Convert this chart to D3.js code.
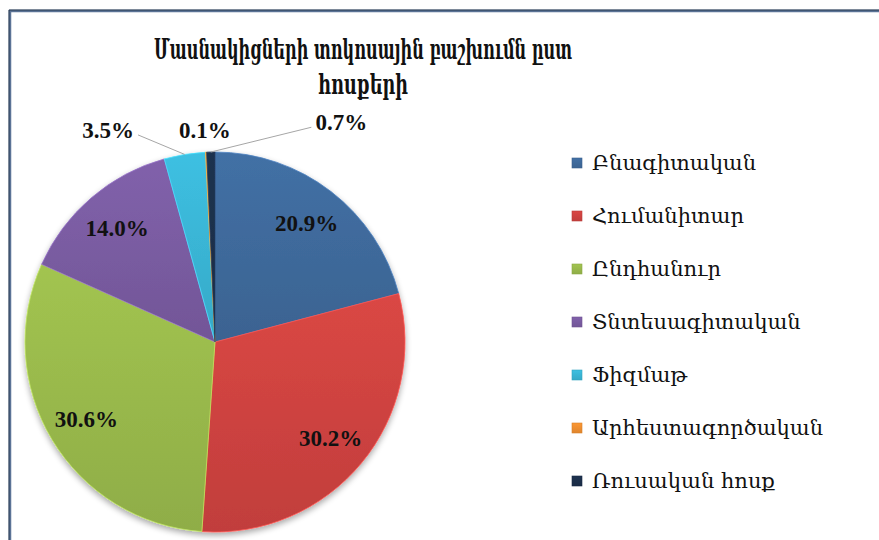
<!DOCTYPE html>
<html><head><meta charset="utf-8">
<script src="https://cdn.jsdelivr.net/npm/d3@7"></script>
<style>
html,body{margin:0;padding:0;background:#fff;}
svg{display:block;}
</style></head>
<body>
<svg id="chart" width="879" height="540"></svg>
<script>
const categories = ["Բնագիտական","Հումանիտար","Ընդհանուր","Տնտեսագիտական","Ֆիզմաթ","Արհեստագործական","Ռուսական հոսք"];
const values = [20.9, 30.2, 30.6, 14.0, 3.5, 0.1, 0.7];
const colors = ["#3f6a9c","#cf4340","#9aba4c","#7a5ca2","#3ab6d6","#ef8f30","#1c2f4b"];
const titleLines = ["Մասնակիցների տոկոսային բաշխումն ըստ","հոսքերի"];

const svg = d3.select("#chart");
const W = 879, H = 540;
const serif = "'DejaVu Serif', 'Noto Serif', serif";
const numFont = "'Liberation Serif', 'DejaVu Serif', serif";

// frame
svg.append("path").attr("d", `M10,${H+2} L10,11 L${W+2},11`)
  .attr("fill","none").attr("stroke","#5b7396").attr("stroke-width",2.5);
svg.append("path").attr("d", `M9,${H+2} L9,10 L${W+2},10`)
  .attr("fill","none").attr("stroke","#26384f").attr("stroke-width",1);

// title (condensed to match the original's narrow serif face)
const titleWidths = [418, 90];
const title = svg.append("text").attr("text-anchor","middle")
  .attr("font-family", serif).attr("font-size", 28).attr("font-weight","bold").attr("fill","#111");
titleLines.forEach((t,i)=>{
  title.append("tspan").attr("x",363).attr("y",59 + i*35)
    .attr("textLength", titleWidths[i]).attr("lengthAdjust","spacingAndGlyphs").text(t);
});

const defs = svg.append("defs");
const f = defs.append("filter").attr("id","shadow").attr("x","-20%").attr("y","-20%").attr("width","140%").attr("height","140%");
f.append("feGaussianBlur").attr("in","SourceAlpha").attr("stdDeviation",3);
f.append("feOffset").attr("dx",0).attr("dy",3).attr("result","ob");
f.append("feComponentTransfer").append("feFuncA").attr("type","linear").attr("slope",0.35);
const m = f.append("feMerge"); m.append("feMergeNode"); m.append("feMergeNode").attr("in","SourceGraphic");

colors.forEach((c,i)=>{
  const g = defs.append("linearGradient").attr("id","g"+i).attr("x1",0).attr("y1",0).attr("x2",0).attr("y2",1);
  g.append("stop").attr("offset","0%").attr("stop-color", d3.color(c).brighter(0.15));
  g.append("stop").attr("offset","100%").attr("stop-color", d3.color(c).darker(0.2));
});

const cx = 215, cy = 342, R = 190;
const data = categories.map((c,i)=>({name:c, value:values[i], color:colors[i], i}));
const pie = d3.pie().sort(null).value(d=>d.value);
const arcs = pie(data);
const arc = d3.arc().innerRadius(0).outerRadius(R);
const labelArc = d3.arc().innerRadius(150).outerRadius(150);
const outerArc = d3.arc().innerRadius(R*1.12).outerRadius(R*1.12);
const edgeArc = d3.arc().innerRadius(R).outerRadius(R);

const gp = svg.append("g").attr("transform",`translate(${cx},${cy})`);
gp.append("g").attr("filter","url(#shadow)")
  .selectAll("path").data(arcs).join("path")
  .attr("d", arc).attr("fill", d=>`url(#g${d.data.i})`)
  .attr("stroke", d=>d3.color(d.data.color).brighter(0.6)).attr("stroke-width",0.8)
  .attr("stroke-linejoin","round");

const fmt = d=>d.toFixed(1)+"%";
const big = arcs.filter(d=>d.data.value >= 10);
const small = arcs.filter(d=>d.data.value < 10);

gp.selectAll("text.in").data(big).join("text").attr("class","in")
  .attr("transform", d=>`translate(${labelArc.centroid(d)})`)
  .attr("text-anchor","middle").attr("dy","0.35em")
  .attr("font-family", numFont).attr("font-weight","bold").attr("font-size",23)
  .attr("fill","#111").text(d=>fmt(d.data.value));

// outside labels for small slices; horizontal shifts to avoid overlap
const shiftX = {4:-73, 5:0, 6:131};
const shiftY = {4:-2, 5:0, 6:-7};
small.forEach(d=>{
  const [ox, oy] = outerArc.centroid(d);
  const lx = ox + (shiftX[d.data.i]||0), ly = oy + (shiftY[d.data.i]||0);
  if (Math.abs(shiftX[d.data.i]||0) > 20) {
    const [ex, ey] = edgeArc.centroid(d);
    const side = shiftX[d.data.i] < 0 ? 1 : -1;
    const tx = lx + side*30, ty = ly + 5;
    gp.append("polyline")
      .attr("points", `${ex},${ey} ${tx},${ty}`)
      .attr("fill","none").attr("stroke","#a6a6a6").attr("stroke-width",1);
  }
  gp.append("text").attr("x",lx).attr("y",ly).attr("text-anchor","middle").attr("dy","0.35em")
    .attr("font-family", numFont).attr("font-weight","bold").attr("font-size",23)
    .attr("fill","#111").text(fmt(d.data.value));
});

// legend
const leg = svg.append("g").attr("transform","translate(572,163)");
const rows = leg.selectAll("g").data(data).join("g").attr("transform",(d,i)=>`translate(0,${i*53})`);
rows.append("rect").attr("x",0).attr("y",-5).attr("width",10).attr("height",10)
  .attr("fill",d=>`url(#g${d.i})`).attr("stroke", d=>d3.color(d.color).darker(0.3)).attr("stroke-width",0.6);
rows.append("text").attr("x",20).attr("dy","0.35em")
  .attr("font-family", serif).attr("font-size",21).attr("fill","#111").text(d=>d.name);
</script>
</body></html>
